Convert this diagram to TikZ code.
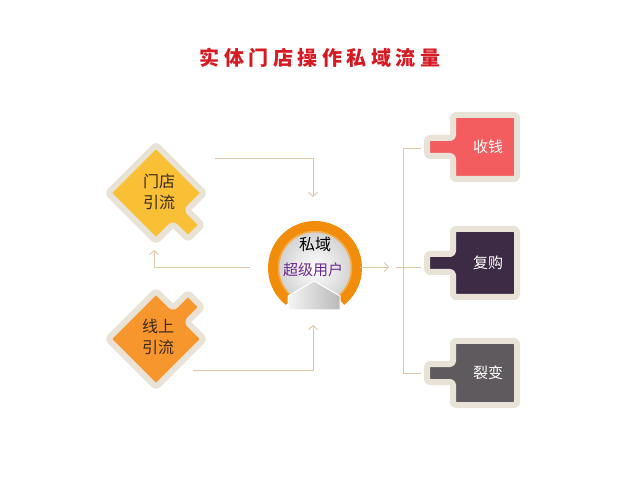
\documentclass[tikz,border=0pt]{standalone}
\usepackage{fontspec}
\newfontfamily\cjk{Noto Sans CJK SC}
\usetikzlibrary{arrows.meta}
\definecolor{conncol}{HTML}{DDC9AA}
\definecolor{rimcol}{HTML}{E9E2D7}
\definecolor{redbox}{HTML}{F45D5F}
\definecolor{purplebox}{HTML}{3D2B45}
\definecolor{graybox}{HTML}{5E5A5D}
\definecolor{yellowd}{HTML}{F9BF35}
\definecolor{oranged}{HTML}{F8962E}
\definecolor{ringcol}{HTML}{F18D0A}
\definecolor{titlered}{HTML}{D61A24}
\definecolor{purpletext}{HTML}{6B2A8E}
\definecolor{browntext}{HTML}{3A2A1C}
\begin{document}
\begin{tikzpicture}[x=1pt,y=-1pt,
  conn/.style={draw=conncol, line width=0.9pt},
  tip/.style={-{Straight Barb[length=4pt,width=9pt]}},
  board/.style={draw=rimcol, line width=6pt, line join=round, rounded corners=3pt},
  boxlbl/.style={font=\cjk\fontsize{15}{18}\selectfont, text=white},
  dialbl/.style={font=\cjk\fontsize{16}{21}\selectfont, text=browntext, align=center},
]
\useasboundingbox (0,0) rectangle (640,478);
\fill[white] (0,0) rectangle (640,478);

% title
\node[font=\cjk\bfseries\fontsize{20}{24}\selectfont, text=titlered] (title) at (320,58)
  {实\hspace{4.5pt}体\hspace{4.5pt}门\hspace{4.5pt}店\hspace{4.5pt}操\hspace{4.5pt}作\hspace{4.5pt}私\hspace{4.5pt}域\hspace{4.5pt}流\hspace{4.5pt}量};

% left diamonds
\begin{scope}[shift={(156,193)}, rotate=-45]
\draw[board, fill=yellowd] (-34,-34) -- (34,-34) -- (34,-10) -- (55,-10) -- (55,10) -- (34,10) -- (34,34) -- (-34,34) -- cycle;
\end{scope}
\node[dialbl] (mendian) at (159,192) {门店\\引流};

\begin{scope}[shift={(156,339)}, rotate=45]
\draw[board, fill=oranged] (-34,-34) -- (34,-34) -- (34,-10) -- (55,-10) -- (55,10) -- (34,10) -- (34,34) -- (-34,34) -- cycle;
\end{scope}
\node[dialbl] (xianshang) at (158,337) {线上\\引流};

% right boards
\begin{scope}[shift={(485,147)}]
\draw[board, fill=redbox] (-32,-32) -- (32,-32) -- (32,32) -- (-32,32) -- (-32,9) -- (-58,9) -- (-58,-9) -- (-32,-9) -- cycle;
\end{scope}
\node[boxlbl] (shouqian) at (488,147) {收钱};

\begin{scope}[shift={(485,263)}]
\draw[board, fill=purplebox] (-32,-34) -- (32,-34) -- (32,34) -- (-32,34) -- (-32,9) -- (-58,9) -- (-58,-9) -- (-32,-9) -- cycle;
\end{scope}
\node[boxlbl] (fugou) at (488,263) {复购};

\begin{scope}[shift={(485,373)}]
\draw[board, fill=graybox] (-32,-32) -- (32,-32) -- (32,32) -- (-32,32) -- (-32,9) -- (-58,9) -- (-58,-9) -- (-32,-9) -- cycle;
\end{scope}
\node[boxlbl] (liebian) at (488,373) {裂变};

% center circle
\coordinate (cc) at (315,268);
\shade[inner color=white, outer color=gray!35] (cc) circle[radius=37];
\draw[ringcol, line width=11pt] (cc) ++(128:41.5) arc[start angle=128, end angle=412, radius=41.5];
\draw[ringcol!70!white, line width=1.5pt] (cc) ++(128:36.5) arc[start angle=128, end angle=412, radius=36.5];
\shade[left color=gray!8, right color=gray!55, draw=white, line width=1pt]
  (314,281) -- (340,296) -- (340,310) -- (288,310) -- (288,296) -- cycle;
\node[font=\cjk\fontsize{16}{18}\selectfont, text=black] (siyu) at (315,244) {私域};
\node[font=\cjk\fontsize{15}{18}\selectfont, text=purpletext] (chaoji) at (313,270) {超级用户};

% connectors
\coordinate (a1s) at (215,158); \coordinate (a1e) at (313,197);
\draw[conn, tip] (a1s) -| (a1e);
\coordinate (a2s) at (250,267); \coordinate (a2e) at (154,250);
\draw[conn, tip] (a2s) -| (a2e);
\coordinate (a3s) at (193,370); \coordinate (a3e) at (313,325);
\draw[conn, tip] (a3s) -| (a3e);
\coordinate (a4s) at (360,267); \coordinate (a4e) at (389,267);
\draw[conn, tip] (a4s) -- (a4e);
\coordinate (brs) at (396,267); \coordinate (b2) at (421,267);
\draw[conn] (brs) -- (b2);
\coordinate (vt) at (403,148); \coordinate (vb) at (403,373);
\coordinate (b1) at (421,148); \coordinate (b3) at (421,373);
\draw[conn] (b1) -- (vt) -- (vb) -- (b3);
\end{tikzpicture}
\end{document}
